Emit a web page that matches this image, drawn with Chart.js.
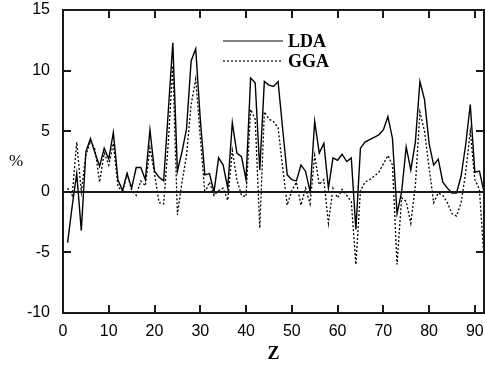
<!DOCTYPE html>
<html>
<head>
<meta charset="utf-8">
<script src="https://cdn.jsdelivr.net/npm/chart.js@4/dist/chart.umd.min.js"></script>
<style>
  html, body { margin: 0; padding: 0; background: #fff; }
  #wrap { width: 485px; height: 370px; }
</style>
</head>
<body>
<div id="wrap"><canvas id="myChart" width="485" height="370"></canvas></div>
<script>
// atomic number Z
var zValues = [1, 2, 3, 4, 5, 6, 7, 8, 9, 10, 11, 12, 13, 14, 15, 16, 17, 18, 19, 20,
    21, 22, 23, 24, 25, 26, 27, 28, 29, 30, 31, 32, 33, 34, 35, 36, 37, 38, 39, 40,
    41, 42, 43, 44, 45, 46, 47, 48, 49, 50, 51, 52, 53, 54, 55, 56, 57, 58, 59, 60,
    61, 62, 63, 64, 65, 66, 67, 68, 69, 70, 71, 72, 73, 74, 75, 76, 77, 78, 79, 80,
    81, 82, 83, 84, 85, 86, 87, 88, 89, 90, 91, 92];

var ldaValues = [-4.2, -1.2, 1.5, -3.2, 3.3, 4.4, 3.2, 2.1, 3.6, 2.7,
    4.9, 1.0, 0.1, 1.5, 0.3, 2.0, 2.0, 1.0, 5.1, 1.7,
    1.2, 0.9, 6.6, 12.3, 1.7, 3.3, 5.2, 10.8, 11.8, 6.0,
    1.4, 1.5, 0.0, 2.8, 2.2, 0.3, 5.7, 3.2, 2.9, 1.0,
    9.4, 9.0, 1.8, 9.1, 8.8, 8.7, 9.1, 5.2, 1.4, 1.0,
    0.9, 2.2, 1.7, 0.0, 5.8, 3.2, 4.0, 0.3, 2.8, 2.6,
    3.1, 2.5, 2.8, -3.1, 3.6, 4.1, 4.3, 4.5, 4.7, 5.1,
    6.2, 4.4, -1.8, 0.0, 3.7, 1.8, 4.1, 9.1, 7.6, 4.0,
    2.2, 2.7, 0.8, 0.3, -0.1, -0.1, 1.3, 3.9, 7.2, 1.6,
    1.7, 0.0];

var ggaValues = [0.3, -0.3, 4.1, 0.0, 3.0, 4.2, 3.5, 0.8, 3.2, 2.2,
    4.0, 0.5, -0.1, 1.6, 0.1, -0.3, 0.9, 0.5, 3.6, 1.5,
    -0.9, -1.0, 4.0, 10.4, -1.9, 0.8, 3.0, 7.2, 9.3, 4.5,
    -0.1, 0.8, -0.3, 0.1, 0.3, -0.7, 3.4, 1.0, -0.3, -0.4,
    6.8, 6.0, -3.0, 6.6, 6.0, 5.8, 5.3, 2.0, -1.1, 0.1,
    0.8, -1.1, 0.3, -1.0, 3.0, 0.6, 1.0, -2.6, 0.3, -0.5,
    0.2, -0.3, -0.8, -6.0, 0.1, 0.8, 1.0, 1.3, 1.6, 2.3,
    3.0, 2.2, -6.0, -0.5, -0.8, -2.6, 0.5, 6.6, 5.0, 2.0,
    -0.9, -0.1, -0.3, -0.9, -1.8, -2.0, -0.9, 1.6, 5.0, 1.0,
    0.2, -5.5];

var xTicks = [0, 10, 20, 30, 40, 50, 60, 70, 80, 90];
var yTicks = [-10, -5, 0, 5, 10, 15];

function points(vals) {
    return zValues.map(function (z, i) { return { x: z, y: vals[i] }; });
}

// inward ticks, zero line, legend, axis titles
var framePlugin = {
    id: 'boxTicks',
    afterDraw: function (chart) {
        var c = chart.ctx;
        var xs = chart.scales.x, ys = chart.scales.y;
        var L = Math.round(xs.getPixelForValue(0));
        var R = Math.round(xs.getPixelForValue(92));
        var T = Math.round(ys.getPixelForValue(15));
        var B = Math.round(ys.getPixelForValue(-10));
        var w = 2, len = 8;
        c.save();
        c.fillStyle = '#1a1a1a';
        var y0 = Math.round(ys.getPixelForValue(0));
        c.fillRect(L, y0 - 1, R - L, w);
        c.fillRect(L - 1, T - 1, R - L + 2, w);
        c.fillRect(L - 1, B - 1, R - L + 2, w);
        c.fillRect(L - 1, T - 1, w, B - T + 2);
        c.fillRect(R - 1, T - 1, w, B - T + 2);
        xTicks.forEach(function (v) {
            var px = Math.round(xs.getPixelForValue(v));
            c.fillRect(px - 1, B - len, w, len);
            c.fillRect(px - 1, T, w, len);
        });
        yTicks.forEach(function (v) {
            var py = Math.round(ys.getPixelForValue(v));
            c.fillRect(L, py - 1, len, w);
            c.fillRect(R - len, py - 1, len, w);
        });

        // legend
        c.fillStyle = '#000';
        c.font = 'bold 18px "Liberation Serif"';
        c.strokeStyle = '#000';
        c.textBaseline = 'middle';
        c.textAlign = 'left';
        chart.data.datasets.forEach(function (ds, i) {
            var ly = 41 + i * 20;
            c.lineWidth = 1.2;
            c.setLineDash(ds.borderDash || []);
            c.beginPath();
            c.moveTo(223, ly);
            c.lineTo(283, ly);
            c.stroke();
            c.setLineDash([]);
            c.fillText(ds.label, 288, ly + 1);
        });

        // axis titles
        c.textAlign = 'center';
        c.fillText('Z', (L + R) / 2, 354);
        c.font = '17px "Liberation Serif"';
        c.fillText('%', 16, 162);
        c.restore();
    }
};

var boxBorder = { display: true, color: '#000', width: 2 };

var ctx = document.getElementById('myChart').getContext('2d');
var myChart = new Chart(ctx, {
    type: 'line',
    data: {
        datasets: [{
            label: 'LDA',
            data: points(ldaValues),
            borderColor: '#000',
            borderWidth: 1.4,
            pointRadius: 0,
            tension: 0,
            fill: false
        }, {
            label: 'GGA',
            data: points(ggaValues),
            borderColor: '#000',
            borderWidth: 1.3,
            borderDash: [2, 2],
            pointRadius: 0,
            tension: 0,
            fill: false
        }]
    },
    options: {
        responsive: false,
        animation: false,
        layout: { padding: { top: 10, right: 1, left: 0, bottom: 0 } },
        plugins: { legend: { display: false }, tooltip: { enabled: false } },
        scales: {
            x: {
                type: 'linear', min: 0, max: 92,
                afterBuildTicks: function (s) { s.ticks = xTicks.map(function (v) { return { value: v }; }); },
                afterFit: function (s) { s.height = 57; s.paddingLeft = 0; s.paddingRight = 0; },
                grid: { drawOnChartArea: false, drawTicks: false },
                border: boxBorder,
                ticks: { color: '#000', padding: 9, maxRotation: 0, font: { family: '"Liberation Sans"', size: 16 } }
            },
            xTop: {
                type: 'linear', position: 'top', min: 0, max: 92,
                afterFit: function (s) { s.height = 0; s.paddingLeft = 0; s.paddingRight = 0; },
                grid: { drawOnChartArea: false, drawTicks: false },
                border: boxBorder,
                ticks: { display: false }
            },
            y: {
                min: -10, max: 15,
                afterBuildTicks: function (s) { s.ticks = yTicks.map(function (v) { return { value: v }; }); },
                afterFit: function (s) { s.width = 63; s.paddingTop = 0; s.paddingBottom = 0; },
                grid: { drawOnChartArea: false, drawTicks: false },
                border: boxBorder,
                ticks: { color: '#000', padding: 13, font: { family: '"Liberation Sans"', size: 16 } }
            },
            yRight: {
                position: 'right', min: -10, max: 15,
                afterFit: function (s) { s.width = 0; s.paddingTop = 0; s.paddingBottom = 0; },
                grid: { drawOnChartArea: false, drawTicks: false },
                border: boxBorder,
                ticks: { display: false }
            }
        }
    },
    plugins: [framePlugin]
});
</script>
</body>
</html>
